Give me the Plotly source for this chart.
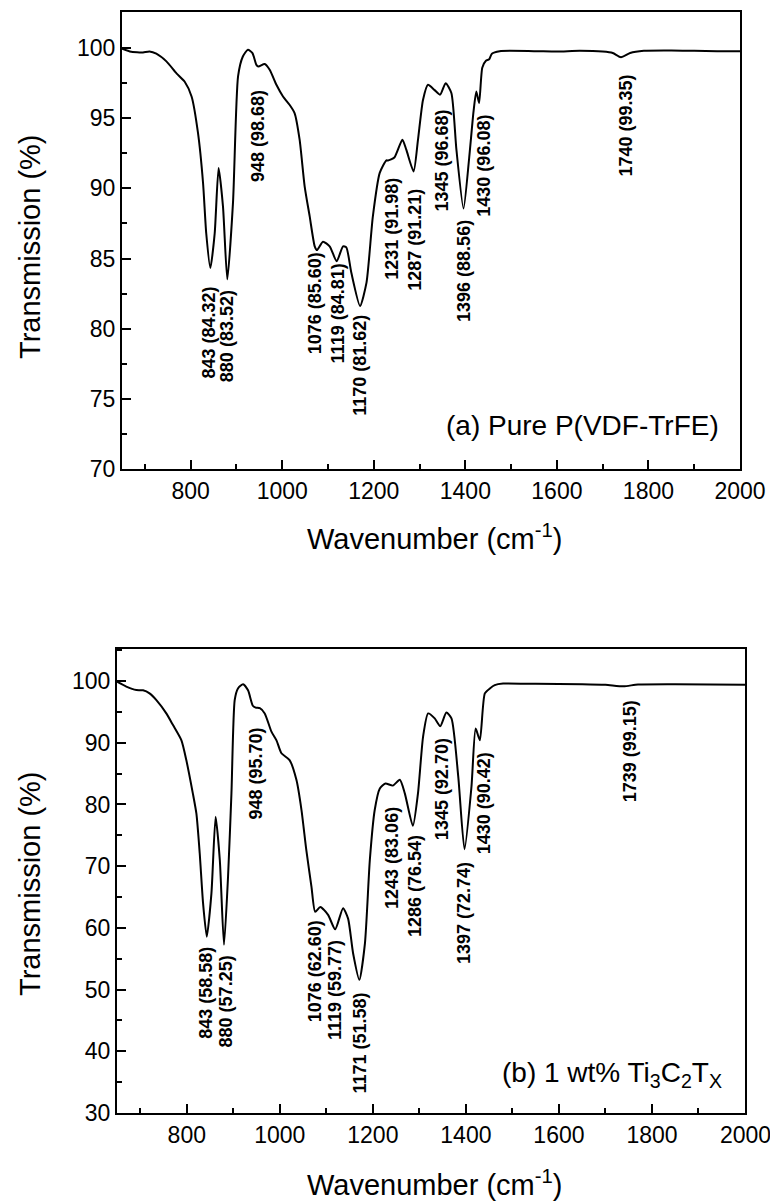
import plotly.graph_objects as go

# ---------------- data: panel (a) pure P(VDF-TrFE) ----------------
wn_a = [650, 667, 683, 696, 710, 725, 747, 769, 787, 802, 816, 827, 834, 843, 852.5, 861,
        870.6, 880, 892.5, 903.5, 914, 925, 935, 943.6, 948, 961.7, 972.6, 987, 1001.7,
        1016, 1027, 1038, 1049, 1060, 1071, 1076, 1089, 1103.6, 1119, 1132.8, 1140, 1151,
        1170, 1184, 1198, 1213, 1227.6, 1231, 1245, 1262.5, 1271, 1287, 1296.6, 1307.5,
        1318.4, 1333, 1345, 1357, 1369.5, 1380.5, 1396, 1408, 1418, 1424, 1430, 1437,
        1445, 1452, 1458, 1475, 1550, 1600, 1650, 1700, 1722, 1740, 1760, 1790, 1850,
        1900, 1950, 2000]
tr_a = [99.95, 99.76, 99.70, 99.69, 99.76, 99.60, 99.05, 98.20, 97.60, 96.55, 93.95, 90.40,
        86.80, 84.32, 86.80, 91.45, 88.70, 83.52, 89.00, 97.98, 99.40, 99.88, 99.64, 98.80,
        98.68, 98.86, 98.45, 97.40, 96.55, 95.96, 95.37, 93.47, 90.15, 88.00, 85.87, 85.60,
        86.20, 85.87, 84.81, 85.87, 85.80, 83.98, 81.62, 83.26, 88.00, 91.10, 92.00, 91.98,
        92.20, 93.47, 92.76, 91.21, 93.47, 96.30, 97.38, 97.00, 96.68, 97.50, 96.80, 92.76,
        88.56, 92.04, 95.50, 96.90, 96.08, 98.60, 99.10, 99.20, 99.60, 99.78, 99.78, 99.75,
        99.80, 99.75, 99.65, 99.35, 99.65, 99.80, 99.82, 99.80, 99.78, 99.78]
peak_wn_a = [843, 880, 948, 1076, 1119, 1170, 1231, 1287, 1345, 1396, 1430, 1740]
peak_tr_a = [84.32, 83.52, 98.68, 85.60, 84.81, 81.62, 91.98, 91.21, 96.68, 88.56, 96.08, 99.35]

# ---------------- data: panel (b) 1 wt% Ti3C2Tx ----------------
wn_b = [650, 670, 691.7, 706, 720, 734.7, 756, 770.4, 788.5, 799, 813, 820.7, 827.8, 835,
        843, 853, 862, 871, 880, 888.7, 896, 903, 910, 921, 931.7, 942, 948, 957, 967.6,
        982, 992.8, 1003.5, 1021, 1035.8, 1046.6, 1057, 1068, 1076, 1087, 1103.8, 1119,
        1136, 1146.8, 1157.5, 1171, 1183, 1193.5, 1204, 1215, 1227, 1243, 1258, 1268.7,
        1286, 1297, 1308, 1318.8, 1333, 1345, 1358, 1369, 1383.6, 1397, 1412, 1421, 1430,
        1440.7, 1451.5, 1462, 1480, 1550, 1650, 1700, 1739, 1770, 1850, 2000]
tr_b = [99.9, 99.1, 98.54, 98.5, 98.0, 96.9, 94.76, 92.87, 90.4, 87.2, 81.8, 78.5, 72.1,
        64.0, 58.58, 65.6, 78.0, 71.0, 57.25, 68.3, 81.8, 96.9, 98.8, 99.5, 98.5, 96.0,
        95.70, 95.6, 94.76, 91.8, 90.4, 88.3, 87.2, 83.95, 79.1, 72.6, 66.7, 62.60, 63.4,
        62.1, 59.77, 63.2, 61.5, 55.9, 51.58, 57.5, 71.0, 79.1, 82.6, 83.4, 83.06, 84.0,
        81.8, 76.54, 81.8, 91.0, 94.76, 93.95, 92.70, 94.9, 93.95, 84.5, 72.74, 82.9, 92.3,
        90.42, 98.0, 98.8, 99.35, 99.6, 99.55, 99.5, 99.4, 99.15, 99.45, 99.5, 99.4]
peak_wn_b = [843, 880, 948, 1076, 1119, 1171, 1243, 1286, 1345, 1397, 1430, 1739]
peak_tr_b = [58.58, 57.25, 95.70, 62.60, 59.77, 51.58, 83.06, 76.54, 92.70, 72.74, 90.42, 99.15]

x_ticks = [800, 1000, 1200, 1400, 1600, 1800, 2000]

# ---------------- label placement (layout only) ----------------
lab_x_a = [840, 880, 947, 1072, 1122, 1171, 1240, 1291, 1348, 1397, 1440, 1750]
lab_top_a = [83.14, 82.91, 97.15, 85.6, 84.80, 81.13, 90.9, 90.14, 95.73, 87.89, 95.37, 98.22]
lab_x_b = [839.7, 884.8, 949.8, 1075, 1120, 1172, 1240.8, 1291.7, 1347.6, 1396, 1439, 1752.6]
lab_top_b = [57.3, 55.9, 92.87, 61.5, 58.3, 49.9, 79.9, 75.3, 91.0, 71.0, 88.8, 97.2]

W, H = 770, 1201
FONT = "Arial, Liberation Sans, sans-serif"


def px(xp):
    return xp / W


def py(yp):
    return 1 - yp / H


fig = go.Figure()
fig.add_trace(go.Scatter(x=wn_a, y=tr_a, mode="lines", xaxis="x", yaxis="y",
                         line=dict(color="black", width=2, shape="spline", smoothing=0.6),
                         showlegend=False, hoverinfo="skip"))
fig.add_trace(go.Scatter(x=wn_b, y=tr_b, mode="lines", xaxis="x2", yaxis="y2",
                         line=dict(color="black", width=2, shape="spline", smoothing=0.6),
                         showlegend=False, hoverinfo="skip"))

common = dict(showline=True, linecolor="black", linewidth=2, mirror=True,
              ticks="inside", ticklen=9, tickwidth=2, tickcolor="black",
              showgrid=False, zeroline=False, automargin=False,
              tickfont=dict(family=FONT, size=23, color="black"))

fig.update_layout(
    width=W, height=H, autosize=False,
    margin=dict(l=0, r=0, t=0, b=0, pad=0, autoexpand=False),
    paper_bgcolor="white", plot_bgcolor="white", showlegend=False,
    xaxis=dict(domain=[px(122), px(740)], range=[650, 2000], anchor="y",
               tickmode="array", tickvals=x_ticks,
               minor=dict(ticks="inside", ticklen=5, tickwidth=2, tickcolor="black",
                          dtick=100, tick0=0),
               **common),
    yaxis=dict(domain=[py(469), py(12)], range=[70, 102.57], anchor="x",
               tickmode="linear", tick0=70, dtick=5,
               minor=dict(ticks="inside", ticklen=5, tickwidth=2, tickcolor="black",
                          dtick=2.5, tick0=70),
               **common),
    xaxis2=dict(domain=[px(117), px(745)], range=[650, 2000], anchor="y2",
                tickmode="array", tickvals=x_ticks,
                minor=dict(ticks="inside", ticklen=5, tickwidth=2, tickcolor="black",
                           dtick=100, tick0=0),
                **common),
    yaxis2=dict(domain=[py(1113), py(649)], range=[30, 105.2], anchor="x2",
                tickmode="linear", tick0=30, dtick=10,
                minor=dict(ticks="inside", ticklen=5, tickwidth=2, tickcolor="black",
                           dtick=5, tick0=30),
                **common),
)

ann = []
# axis titles
for yc in (247, 884):
    ann.append(dict(text="Transmission (%)", x=px(30), y=py(yc), xref="paper", yref="paper",
                    xanchor="center", yanchor="middle", textangle=-90, showarrow=False,
                    font=dict(family=FONT, size=29, color="black")))
for yc in (537, 1183):
    ann.append(dict(text="Wavenumber (cm<sup>-1</sup>)", x=px(434), y=py(yc), xref="paper",
                    yref="paper", xanchor="center", yanchor="middle", showarrow=False,
                    font=dict(family=FONT, size=29, color="black")))
# last tick label of the lower axis (Plotly hides it since it overflows the page edge)
ann.append(dict(text=str(x_ticks[-1]), x=x_ticks[-1], y=py(1113 + 22), xref="x2", yref="paper",
                xanchor="center", yanchor="middle", showarrow=False,
                font=dict(family=FONT, size=23, color="black")))
# panel labels
ann.append(dict(text="(a) Pure P(VDF-TrFE)", x=px(721), y=py(426), xref="paper", yref="paper",
                xanchor="right", yanchor="middle", showarrow=False,
                font=dict(family=FONT, size=28, color="black")))
ann.append(dict(text="(b) 1 wt% Ti<sub>3</sub>C<sub>2</sub>T<sub>X</sub>", x=px(724), y=py(1074),
                xref="paper", yref="paper", xanchor="right", yanchor="middle", showarrow=False,
                font=dict(family=FONT, size=28, color="black")))

# peak labels
for wn, tr, lx, ly in zip(peak_wn_a, peak_tr_a, lab_x_a, lab_top_a):
    ann.append(dict(text=f"<b>{wn} ({tr:.2f})</b>", x=lx, y=ly, xref="x", yref="y",
                    xanchor="center", yanchor="top", textangle=-90, showarrow=False,
                    font=dict(family=FONT, size=18, color="black")))
for wn, tr, lx, ly in zip(peak_wn_b, peak_tr_b, lab_x_b, lab_top_b):
    ann.append(dict(text=f"<b>{wn} ({tr:.2f})</b>", x=lx, y=ly, xref="x2", yref="y2",
                    xanchor="center", yanchor="top", textangle=-90, showarrow=False,
                    font=dict(family=FONT, size=18, color="black")))

fig.update_layout(annotations=ann)
fig.write_html("out.html", config={"responsive": False})
